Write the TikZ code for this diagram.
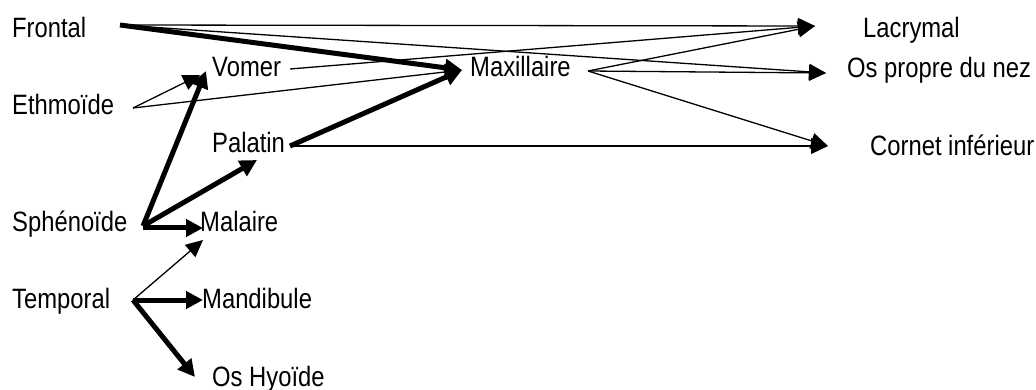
\documentclass[tikz,border=0pt]{standalone}
\usepackage{fontspec}
\setmainfont{Liberation Sans}
\usetikzlibrary{arrows.meta,calc}
\newcommand{\lbl}[1]{\scalebox{0.85}[1]{\fontsize{28}{28}\selectfont #1}}
\begin{document}
\begin{tikzpicture}[x=1pt,y=-1pt,
  bone/.style={anchor=west,inner sep=0pt,text height=20pt,text depth=0pt},
  thinarr/.style={line width=1.3pt,-{Triangle[length=17pt,width=16pt]}},
  thickarr/.style={line width=5pt,-{Triangle[length=17pt,width=17pt]}}]
\useasboundingbox (0,0) rectangle (1036,390);
% nodes (west anchor = left edge, baseline-10)
\node[bone] (frontal)   at (12,28)  {\lbl{Frontal}};
\node[bone] (ethmoide)  at (12,105) {\lbl{Ethmoïde}};
\node[bone] (sphenoide) at (12,222) {\lbl{Sphénoïde}};
\node[bone] (temporal)  at (12,298) {\lbl{Temporal}};
\node[bone] (vomer)     at (212,67) {\lbl{Vomer}};
\node[bone] (palatin)   at (212,143) {\lbl{Palatin}};
\node[bone] (malaire)   at (200,222) {\lbl{Malaire}};
\node[bone] (mandibule) at (202,298) {\lbl{Mandibule}};
\node[bone] (oshyoide)  at (212,376) {\lbl{Os Hyoïde}};
\node[bone] (maxillaire) at (470,67) {\lbl{Maxillaire}};
\node[bone] (lacrymal)  at (863,28) {\lbl{Lacrymal}};
\node[bone] (ospropre)  at (847,68) {\lbl{Os propre du nez}};
\node[bone] (cornet)    at (870,146) {\lbl{Cornet inférieur}};
% Frontal
\draw[thinarr] ($(frontal.west)+(108,-3)$) -- ($(lacrymal.west)+(-48,-2)$);
\draw[thinarr] ($(frontal.west)+(108,-3)$) -- ($(ospropre.west)+(-21,5)$);
\draw[thickarr] ($(frontal.west)+(108,-3)$) -- ($(maxillaire.west)+(-8,3)$);
% Vomer
\draw[thinarr] ($(vomer.west)+(78,2)$) -- ($(lacrymal.west)+(-48,-2)$);
% Ethmoide
\draw[thinarr] ($(ethmoide.west)+(121,3)$) -- ($(vomer.west)+(-12,8)$);
\draw[thinarr] ($(ethmoide.west)+(121,3)$) -- ($(maxillaire.west)+(-8,3)$);
% Sphenoide
\draw[thickarr] ($(sphenoide.west)+(131,4)$) -- ($(vomer.west)+(-6,4)$);
\draw[thickarr] ($(sphenoide.west)+(131,4)$) -- ($(palatin.west)+(45,17)$);
\draw[thickarr] ($(sphenoide.west)+(131,6)$) -- ($(malaire.west)+(3,6)$);
% Temporal
\draw[thinarr] ($(temporal.west)+(121,2)$) -- ($(malaire.west)+(3,18)$);
\draw[thickarr] ($(temporal.west)+(121,2)$) -- ($(mandibule.west)+(1,2)$);
\draw[thickarr] ($(temporal.west)+(121,2)$) -- ($(oshyoide.west)+(-17,1)$);
% Palatin
\draw[thickarr] ($(palatin.west)+(78,3)$) -- ($(maxillaire.west)+(-8,3)$);
\draw[thinarr] ($(palatin.west)+(78,3)$) -- ($(cornet.west)+(-42,0)$);
% Maxillaire
\draw[thinarr] ($(maxillaire.west)+(118,4)$) -- ($(lacrymal.west)+(-48,-2)$);
\draw[thinarr] ($(maxillaire.west)+(118,4)$) -- ($(ospropre.west)+(-21,5)$);
\draw[thinarr] ($(maxillaire.west)+(118,4)$) -- ($(cornet.west)+(-42,0)$);
\end{tikzpicture}
\end{document}
